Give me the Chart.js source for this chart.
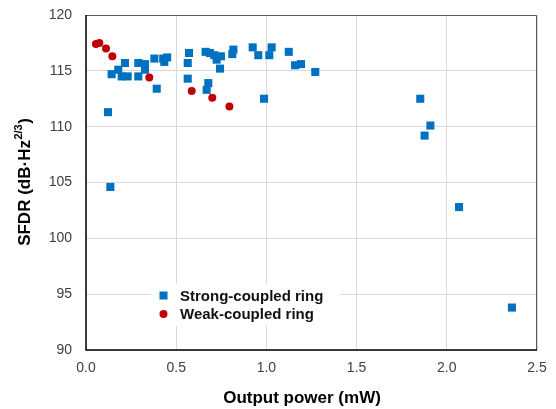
<!DOCTYPE html>
<html>
<head>
<meta charset="utf-8">
<script src="https://cdn.jsdelivr.net/npm/chart.js"></script>
<style>
  html, body { margin: 0; padding: 0; background: #fff; }
  #wrap { width: 556px; height: 409px; }
</style>
</head>
<body>
<div id="wrap"><canvas id="chart" width="556" height="409"></canvas></div>
<script>
// values
const strongX = [0.122, 0.135, 0.142, 0.179, 0.216, 0.198, 0.231, 0.290, 0.290, 0.327, 0.327, 0.379, 0.392, 0.428, 0.450, 0.434,
                 0.571, 0.564, 0.564, 0.663, 0.687, 0.711, 0.724, 0.748, 0.743, 0.678, 0.669, 0.817, 0.811, 0.924, 0.955,
                 1.029, 1.016, 0.987, 1.124, 1.159, 1.192, 1.271, 1.853, 1.909, 1.877, 2.068, 2.361];
const strongY = [111.3, 104.6, 114.7, 115.1, 115.7, 114.5, 114.5, 114.5, 115.7, 115.6, 115.1, 116.1, 113.4, 116.1, 116.2, 115.8,
                 116.6, 115.7, 114.3, 116.7, 116.6, 116.4, 116.0, 116.3, 115.2, 113.9, 113.3, 116.9, 116.5, 117.1, 116.4,
                 117.1, 116.4, 112.5, 116.7, 115.5, 115.6, 114.9, 112.5, 110.1, 109.2, 102.8, 93.8];
const weakX = [0.055, 0.074, 0.111, 0.146, 0.351, 0.586, 0.700, 0.795];
const weakY = [117.4, 117.5, 117.0, 116.3, 114.4, 113.2, 112.6, 111.8];

const seriesNames = ['Strong-coupled ring', 'Weak-coupled ring'];
const seriesColors = ['#0070C0', '#C00000'];
const xTitle = 'Output power (mW)';
const yTitleMain = 'SFDR (dB·Hz';
const yTitleSup = '2/3';
const yTitleEnd = ')';

const FONT = '"Liberation Sans", Arial, sans-serif';

function toPoints(xs, ys) {
    return xs.map((x, i) => ({ x: x, y: ys[i] }));
}

// frame, axis titles and the in-plot legend
const decorPlugin = {
    id: 'decor',
    beforeDatasetsDraw(chart) {
        const ctx = chart.ctx;
        const a = chart.chartArea;
        ctx.save();
        // light frame top/right
        ctx.strokeStyle = '#595959';
        ctx.lineWidth = 1;
        ctx.beginPath();
        ctx.moveTo(a.left, a.top + 0.5);
        ctx.lineTo(a.right - 0.5, a.top + 0.5);
        ctx.lineTo(a.right - 0.5, a.bottom);
        ctx.stroke();
        // black axes left/bottom
        ctx.strokeStyle = '#000';
        ctx.lineWidth = 1.5;
        ctx.beginPath();
        ctx.moveTo(a.left, a.top);
        ctx.lineTo(a.left, a.bottom);
        ctx.lineTo(a.right, a.bottom);
        ctx.stroke();
        ctx.restore();
    },
    afterDraw(chart) {
        const ctx = chart.ctx;
        const a = chart.chartArea;
        ctx.save();

        // x title
        ctx.fillStyle = '#000';
        ctx.font = 'bold 17px ' + FONT;
        ctx.textAlign = 'center';
        ctx.textBaseline = 'middle';
        ctx.fillText(xTitle, 302, 398);

        // y title with superscript
        ctx.translate(25, (a.top + a.bottom) / 2);
        ctx.rotate(-Math.PI / 2);
        ctx.textAlign = 'left';
        ctx.textBaseline = 'middle';
        const bigFont = 'bold 17px ' + FONT;
        const supFont = 'bold 11px ' + FONT;
        ctx.font = bigFont;
        const w1 = ctx.measureText(yTitleMain).width;
        const w3 = ctx.measureText(yTitleEnd).width;
        ctx.font = supFont;
        const w2 = ctx.measureText(yTitleSup).width;
        let x0 = -(w1 + w2 + w3) / 2;
        ctx.font = bigFont;
        ctx.fillText(yTitleMain, x0, 0);
        ctx.font = supFont;
        ctx.fillText(yTitleSup, x0 + w1 + 0.5, -6);
        ctx.font = bigFont;
        ctx.fillText(yTitleEnd, x0 + w1 + w2 + 1, 0);
        ctx.setTransform(1, 0, 0, 1, 0, 0);

        // legend box inside the plot
        ctx.fillStyle = '#fff';
        ctx.fillRect(151, 284, 189, 42);
        ctx.font = 'bold 15px ' + FONT;
        ctx.textAlign = 'left';
        ctx.textBaseline = 'middle';
        const rowsY = [296, 314];
        // square marker
        ctx.fillStyle = seriesColors[0];
        ctx.fillRect(159.5, 291.5, 8, 8);
        // circle marker
        ctx.fillStyle = seriesColors[1];
        ctx.beginPath();
        ctx.arc(163.5, rowsY[1], 4, 0, Math.PI * 2);
        ctx.fill();
        ctx.fillStyle = '#111';
        ctx.fillText(seriesNames[0], 180, rowsY[0] + 1);
        ctx.fillText(seriesNames[1], 180, rowsY[1] + 1);
        ctx.restore();
    }
};

new Chart(document.getElementById('chart').getContext('2d'), {
    type: 'scatter',
    data: {
        datasets: [
            {
                label: seriesNames[1],
                data: toPoints(weakX, weakY),
                backgroundColor: seriesColors[1],
                borderColor: seriesColors[1],
                pointStyle: 'circle',
                pointRadius: 4,
                borderWidth: 0,
                order: 0
            },
            {
                label: seriesNames[0],
                data: toPoints(strongX, strongY),
                backgroundColor: seriesColors[0],
                borderColor: seriesColors[0],
                pointStyle: 'rect',
                pointRadius: 5.7,
                borderWidth: 0,
                order: 1
            }
        ]
    },
    options: {
        responsive: false,
        animation: false,
        devicePixelRatio: 1,
        layout: { padding: { left: 0, top: 15, right: 19, bottom: 0 } },
        plugins: {
            legend: { display: false },
            tooltip: { enabled: false }
        },
        scales: {
            x: {
                type: 'linear',
                min: 0,
                max: 2.5,
                grid: { color: '#d9d9d9', lineWidth: 1, drawTicks: false },
                border: { display: false },
                ticks: {
                    stepSize: 0.5,
                    padding: 10,
                    color: '#404040',
                    font: { family: FONT, size: 14 },
                    callback: v => v.toFixed(1)
                },
                afterFit: s => { s.height = 59; s.paddingLeft = 0; s.paddingRight = 0; }
            },
            y: {
                type: 'linear',
                min: 90,
                max: 120,
                grid: { color: '#d9d9d9', lineWidth: 1, drawTicks: false },
                border: { display: false },
                ticks: {
                    stepSize: 5,
                    padding: 14,
                    color: '#404040',
                    font: { family: FONT, size: 14 }
                },
                afterFit: s => { s.width = 86; s.paddingTop = 0; s.paddingBottom = 0; }
            }
        }
    },
    plugins: [decorPlugin]
});
</script>
</body>
</html>
